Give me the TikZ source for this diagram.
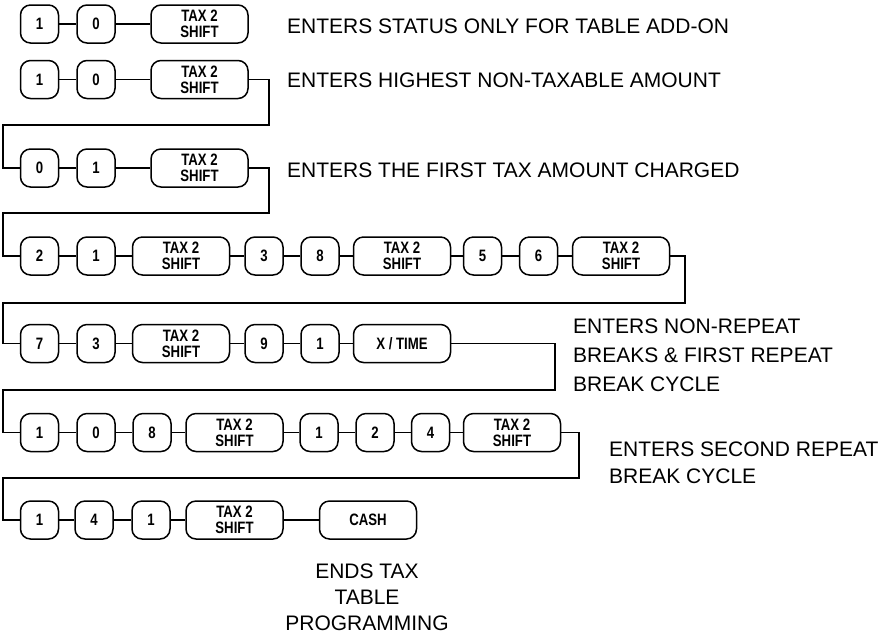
\documentclass[tikz,border=0pt]{standalone}
\usepackage{fontspec}
\setmainfont{Liberation Sans}
\newfontfamily\keyfont[FakeStretch=0.8]{Liberation Sans}
\usepackage{tikz}

\begin{document}
\begin{tikzpicture}[x=1pt,y=-1pt,
    key/.style={draw,line width=1.5pt,rounded corners=10pt,minimum width=38pt,
                minimum height=38pt,inner sep=0pt,align=center,
                font=\keyfont\bfseries\fontsize{16.5}{16}\selectfont},
    widekey/.style={key,minimum width=97pt},
    note/.style={inner sep=0pt,font=\fontsize{21}{28}\selectfont},
    wire/.style={line width=1.5pt}]
  \useasboundingbox (0,0) rectangle (890,633);

  % row 1
  \node[key] (r1a) at (39.5,24) {1};
  \node[key] (r1b) at (96,24) {0};
  \node[widekey] (r1c) at (199.5,24) {TAX 2\\SHIFT};
  \node[note,anchor=west] (n1) at (287,26) {ENTERS STATUS ONLY FOR TABLE ADD-ON};

  % row 2
  \node[key] (r2a) at (39.5,79.5) {1};
  \node[key] (r2b) at (96,79.5) {0};
  \node[widekey] (r2c) at (199.5,79.5) {TAX 2\\SHIFT};
  \node[note,anchor=west] (n2) at (287,80) {ENTERS HIGHEST NON-TAXABLE AMOUNT};

  % row 3
  \node[key] (r3a) at (39.5,168) {0};
  \node[key] (r3b) at (96,168) {1};
  \node[widekey] (r3c) at (199.5,168) {TAX 2\\SHIFT};
  \node[note,anchor=west] (n3) at (287,170) {ENTERS THE FIRST TAX AMOUNT CHARGED};

  % row 4
  \node[key] (r4a) at (39.5,256) {2};
  \node[key] (r4b) at (96,256) {1};
  \node[widekey] (r4c) at (181,256) {TAX 2\\SHIFT};
  \node[key] (r4d) at (264,256) {3};
  \node[key] (r4e) at (320,256) {8};
  \node[widekey] (r4f) at (402,256) {TAX 2\\SHIFT};
  \node[key] (r4g) at (482.5,256) {5};
  \node[key] (r4h) at (538.5,256) {6};
  \node[widekey] (r4i) at (621,256) {TAX 2\\SHIFT};

  % row 5
  \node[key] (r5a) at (39.5,343.5) {7};
  \node[key] (r5b) at (96,343.5) {3};
  \node[widekey] (r5c) at (181,343.5) {TAX 2\\SHIFT};
  \node[key] (r5d) at (264,343.5) {9};
  \node[key] (r5e) at (320,343.5) {1};
  \node[widekey] (r5f) at (402,343.5) {X / TIME};
  \node[note,anchor=west,align=left,font=\fontsize{21}{29}\selectfont] (n5)
    at (573,355) {ENTERS NON-REPEAT\\BREAKS \& FIRST REPEAT\\BREAK CYCLE};

  % row 6
  \node[key] (r6a) at (39.5,432.5) {1};
  \node[key] (r6b) at (96,432.5) {0};
  \node[key] (r6c) at (152,432.5) {8};
  \node[widekey] (r6d) at (234.5,432.5) {TAX 2\\SHIFT};
  \node[key] (r6e) at (319,432.5) {1};
  \node[key] (r6f) at (375,432.5) {2};
  \node[key] (r6g) at (430.5,432.5) {4};
  \node[widekey] (r6h) at (512,432.5) {TAX 2\\SHIFT};
  \node[note,anchor=west,align=left,font=\fontsize{21}{27}\selectfont] (n6)
    at (609,463) {ENTERS SECOND REPEAT\\BREAK CYCLE};

  % row 7
  \node[key] (r7a) at (39.5,520) {1};
  \node[key] (r7b) at (94,520) {4};
  \node[key] (r7c) at (151,520) {1};
  \node[widekey] (r7d) at (234.5,520) {TAX 2\\SHIFT};
  \node[widekey] (r7e) at (368,520) {CASH};
  \node[note,align=center,font=\fontsize{21}{26}\selectfont] (n7)
    at (367,597) {ENDS TAX\\TABLE\\PROGRAMMING};

  % links inside the rows
  \foreach \a/\b in {r1a/r1b,r1b/r1c,r2a/r2b,r2b/r2c,r3a/r3b,r3b/r3c,
      r4a/r4b,r4b/r4c,r4c/r4d,r4d/r4e,r4e/r4f,r4f/r4g,r4g/r4h,r4h/r4i,
      r5a/r5b,r5b/r5c,r5c/r5d,r5d/r5e,r5e/r5f,
      r6a/r6b,r6b/r6c,r6c/r6d,r6d/r6e,r6e/r6f,r6f/r6g,r6g/r6h,
      r7a/r7b,r7b/r7c,r7c/r7d,r7d/r7e}
    \draw[wire] (\a) -- (\b);

  % links from one row to the next
  \coordinate (t2) at (269,125);  \coordinate (l2) at (3,125);
  \coordinate (t3) at (269,213);  \coordinate (l3) at (3,213);
  \coordinate (t4) at (685,303);  \coordinate (l4) at (3,303);
  \coordinate (t5) at (555,390);  \coordinate (l5) at (3,390);
  \coordinate (t6) at (579,478);  \coordinate (l6) at (3,478);
  \draw[wire] (r2c.east) -| (t2) -- (l2) |- (r3a.west);
  \draw[wire] (r3c.east) -| (t3) -- (l3) |- (r4a.west);
  \draw[wire] (r4i.east) -| (t4) -- (l4) |- (r5a.west);
  \draw[wire] (r5f.east) -| (t5) -- (l5) |- (r6a.west);
  \draw[wire] (r6h.east) -| (t6) -- (l6) |- (r7a.west);
\end{tikzpicture}
\end{document}
